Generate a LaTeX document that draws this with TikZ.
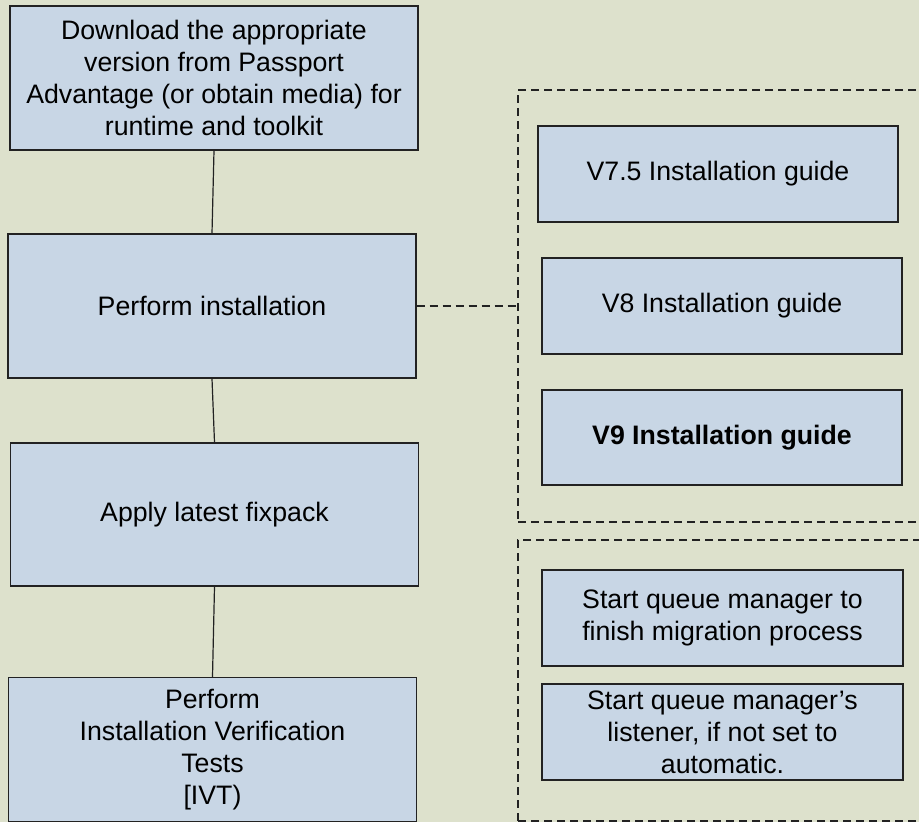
\documentclass[tikz,border=0pt]{standalone}
\usepackage{fontspec}
\setmainfont{Liberation Sans}
\usepackage{xcolor}
\usepackage{tikz}
\usetikzlibrary{positioning, calc}

\definecolor{bgpaper}{RGB}{221,225,204}
\definecolor{boxfill}{RGB}{200,214,229}
\definecolor{boxline}{RGB}{34,34,34}

\begin{document}
\begin{tikzpicture}[
        x=1pt, y=-1pt,
        stepbox/.style={rectangle, draw=boxline, line width=1.3pt, fill=boxfill, inner sep=0pt, minimum width=408pt, minimum height=144pt, align=center, font=\fontsize{26.7}{32}\selectfont},
        guide/.style={stepbox, minimum width=360pt, minimum height=96pt},
        group/.style={rectangle, draw=boxline, line width=1.2pt, dash pattern=on 8pt off 5pt, inner sep=0pt},
        link/.style={draw=boxline, line width=1.2pt}
    ]
        % page
        \useasboundingbox (0,0) rectangle (919,822);
        \fill[bgpaper] (0,0) rectangle (919,822);

        % dashed groups
        \node[group, minimum width=412pt, minimum height=432pt] (install) at (724,306) {};
        \node[group, minimum width=412pt, minimum height=281pt] (restart) at (724,680.5) {};

        % main steps
        \node[stepbox] (download) at (214,78) {Download the appropriate\\version from Passport\\Advantage (or obtain media) for\\runtime and toolkit};
        \node[stepbox] (perform) at (212,306) {Perform installation};
        \node[stepbox, minimum height=143pt] (fixpack) at (214.5,514.5) {Apply latest fixpack};
        \node[stepbox] (ivt) at (212.5,749.5) {Perform\\Installation Verification\\Tests\\{[IVT)}};

        % installation guides
        \node[guide] (v75) at (718,174) {V7.5 Installation guide};
        \node[guide] (v8) at (722,306) {V8 Installation guide};
        \node[guide, minimum height=95pt, font=\fontsize{26.7}{32}\selectfont\bfseries] (v9) at (722,437.5) {V9 Installation guide};

        % queue manager steps
        \node[guide, minimum width=361pt] (qmgr) at (722.5,618) {Start queue manager to\\finish migration process};
        \node[guide, minimum width=361pt] (listener) at (722.5,732) {Start queue manager’s\\listener, if not set to\\automatic.};

        % connectors
        \draw[link] (download.south) -- (perform.north);
        \draw[link] (perform.south) -- (fixpack.north);
        \draw[link] (fixpack.south) -- (ivt.north);
        \draw[link, dash pattern=on 8pt off 5pt] (perform.east) -- (install.west);
    \end{tikzpicture}
\end{document}
